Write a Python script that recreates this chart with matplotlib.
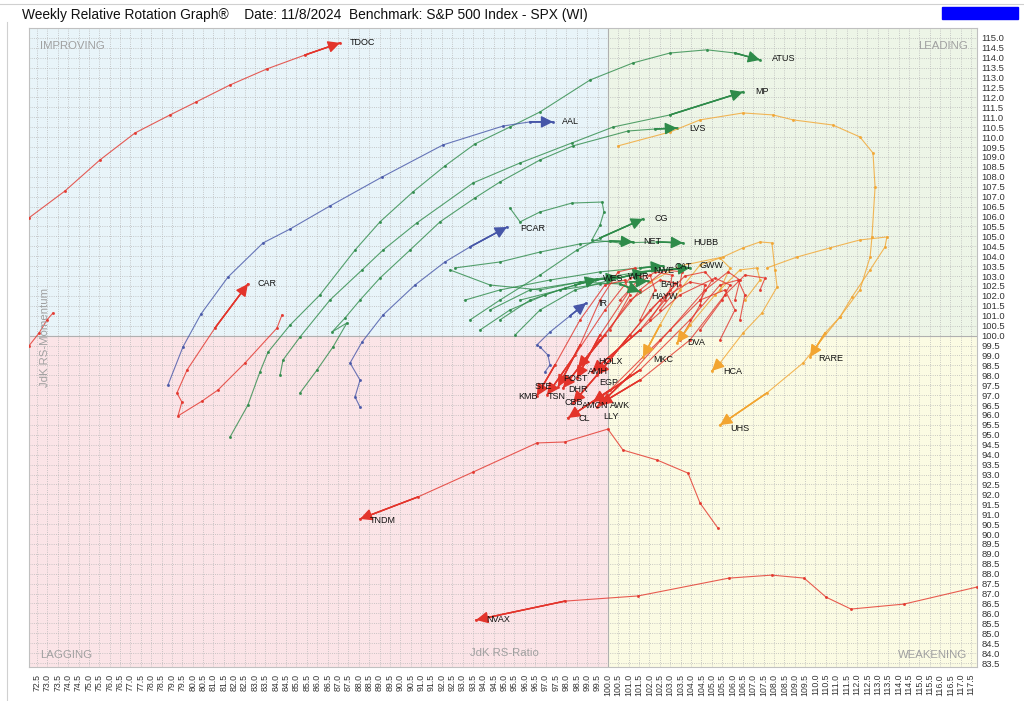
import numpy as np
import matplotlib.pyplot as plt
from matplotlib.patches import Rectangle

plt.rcParams['font.family'] = ['Liberation Sans', 'DejaVu Sans']

RED = "#e3342b"
GREEN = "#2e8b4a"
BLUE = "#4656a8"
ORANGE = "#f2a531"

# RS-Ratio / RS-Momentum tails, oldest point first, head last
tdoc_rs = [72.11, 73.85, 75.53, 77.22, 78.91, 80.16, 81.80, 83.58, 85.41, 87.10]
tdoc_mom = [105.93, 107.29, 108.85, 110.21, 111.12, 111.77, 112.63, 113.44, 114.14, 114.75]

atus_rs = [81.80, 82.66, 83.24, 83.63, 84.69, 86.13, 87.82, 89.02, 90.61, 92.15,
           93.60, 95.28, 96.73, 99.14, 101.21, 102.99, 104.77, 106.12, 107.33]
atus_mom = [94.89, 96.50, 98.17, 99.17, 100.53, 102.05, 104.31, 105.73, 107.24, 108.55,
            109.66, 110.51, 111.27, 112.88, 113.74, 114.24, 114.40, 114.24, 113.89]

mp_rs = [84.21, 84.35, 85.17, 86.61, 88.16, 89.17, 90.80, 93.50, 95.77, 98.27, 100.25, 102.99, 106.51]
mp_mom = [98.01, 98.77, 99.93, 101.79, 103.31, 104.31, 105.68, 107.69, 108.70, 109.71, 110.51, 111.12, 112.28]

lvs_rs = [85.17, 85.99, 86.76, 87.43, 86.71, 87.34, 88.06, 89.02, 90.47, 91.91,
          93.60, 94.80, 96.73, 98.32, 100.97, 102.27, 103.33]
lvs_mom = [97.11, 98.27, 99.43, 100.64, 100.18, 100.89, 101.79, 102.90, 104.31, 105.73,
           106.94, 107.74, 108.85, 109.56, 110.31, 110.41, 110.46]

aal_rs = [78.81, 79.53, 80.40, 81.70, 83.39, 84.69, 86.61, 89.12, 92.06, 94.95, 96.25, 97.36]
aal_mom = [97.51, 99.43, 101.09, 102.95, 104.67, 105.37, 106.53, 107.99, 109.61, 110.56, 110.77, 110.77]

car_rs = [84.30, 84.06, 82.52, 81.22, 80.45, 79.29, 79.48, 79.24, 79.73, 81.07, 82.66]
car_mom = [101.04, 100.38, 98.62, 97.26, 96.70, 95.95, 96.65, 97.11, 98.27, 100.38, 102.60]

edge_rs = [72.11, 72.60, 72.98, 73.27]
edge_mom = [99.48, 100.13, 100.79, 101.14]

pcar_rs = [88.06, 87.82, 88.06, 87.58, 88.16, 89.17, 90.71, 92.15, 93.36, 95.14]
pcar_mom = [96.40, 96.91, 97.76, 98.62, 99.68, 101.04, 102.55, 103.71, 104.47, 105.47]

ir_rs = [96.97, 97.21, 97.11, 96.73, 96.58, 97.21, 98.17, 98.95]
ir_mom = [98.17, 98.52, 99.02, 99.43, 99.53, 100.18, 100.99, 101.64]

tndm_rs = [105.30, 104.44, 103.86, 102.37, 100.73, 100.00, 97.93, 96.58, 93.50, 90.85, 88.06]
tndm_mom = [90.30, 91.56, 93.07, 93.73, 94.23, 95.29, 94.64, 94.59, 93.12, 91.87, 90.76]

nvax_rs = [117.78, 114.26, 111.71, 110.51, 109.45, 107.90, 105.83, 101.45, 97.93, 93.65]
nvax_mom = [87.33, 86.47, 86.22, 86.82, 87.78, 87.93, 87.78, 86.88, 86.62, 85.67]

rare_rs = [107.66, 109.11, 110.70, 112.14, 113.44, 113.35, 112.63, 111.76, 111.18, 110.46, 109.74]
rare_mom = [103.41, 103.96, 104.42, 104.82, 104.97, 104.47, 103.31, 101.95, 100.94, 100.13, 98.92]

uhs_rs = [100.49, 102.99, 104.44, 106.51, 107.95, 108.92, 110.84, 112.14, 112.77, 112.87,
          112.72, 112.63, 112.14, 111.18, 109.40, 107.66, 105.40]
uhs_mom = [109.56, 110.26, 110.87, 111.22, 111.12, 110.87, 110.61, 110.01, 109.20, 107.49,
           104.97, 103.96, 102.30, 100.94, 98.62, 97.11, 95.49]

hca_rs = [102.03, 103.47, 105.54, 106.51, 107.33, 107.90, 108.05, 108.15, 107.42, 106.51, 105.40, 105.01]
hca_mom = [102.70, 103.51, 103.96, 104.42, 104.72, 104.67, 103.31, 102.45, 101.14, 100.13, 98.62, 98.22]

dva_rs = [106.60, 107.33, 107.18, 106.36, 105.16, 103.95, 103.33]
dva_mom = [101.79, 102.80, 103.41, 103.31, 102.05, 100.53, 99.63]

mkc_rs = [105.40, 105.88, 105.40, 104.44, 103.47, 102.51, 101.69]
mkc_mom = [102.30, 103.41, 103.91, 103.56, 102.30, 100.53, 98.92]

wes_rs = [93.84, 95.28, 96.97, 98.42, 99.48]
wes_mom = [100.28, 101.29, 102.05, 102.55, 102.85]

whr_rs = [94.80, 96.25, 97.93, 99.38, 100.49]
whr_mom = [100.79, 101.79, 102.40, 102.80, 102.95]

nwe_rs = [95.53, 96.73, 98.42, 100.10, 101.79]
nwe_mom = [100.03, 101.29, 102.30, 102.80, 103.21]

cat_rs = [93.12, 94.80, 97.21, 99.62, 101.55, 102.65]
cat_mom = [101.79, 102.30, 102.80, 103.21, 103.41, 103.51]

gww_rs = [92.39, 94.32, 96.73, 99.14, 101.55, 103.95]
gww_mom = [103.31, 102.55, 102.30, 102.80, 103.21, 103.41]

bah_rs = [95.77, 97.69, 99.62, 101.06, 101.93]
bah_mom = [101.79, 102.30, 102.60, 102.70, 102.75]

hayw_rs = [94.32, 96.25, 98.66, 100.58, 101.55]
hayw_mom = [101.29, 102.30, 102.70, 102.60, 102.20]

cg_rs = [93.36, 94.80, 96.73, 98.51, 99.62, 101.69]
cg_mom = [100.79, 101.79, 103.05, 104.31, 104.92, 105.88]

net_rs = [92.64, 94.80, 96.73, 98.66, 100.10, 101.21]
net_mom = [103.41, 103.71, 104.21, 104.62, 104.77, 104.72]

hubb_rs = [95.28, 95.77, 96.73, 98.27, 99.72, 99.81, 99.62, 99.23, 100.58, 102.37, 103.62]
hubb_mom = [106.43, 105.73, 106.23, 106.68, 106.73, 106.23, 105.57, 104.82, 104.67, 104.72, 104.67]

holx_rs = [101.55, 102.75, 103.23, 102.51, 101.06, 99.86, 98.56]
holx_mom = [100.28, 101.79, 102.65, 102.80, 101.79, 100.03, 98.37]

amh_rs = [104.44, 105.50, 105.88, 105.16, 103.47, 101.55, 99.23]
amh_mom = [100.28, 101.79, 102.55, 102.90, 102.05, 100.28, 98.17]

egp_rs = [103.47, 104.44, 104.68, 103.95, 102.51, 101.06, 99.48]
egp_mom = [99.78, 101.54, 102.55, 102.70, 101.79, 100.03, 98.01]

post_rs = [102.03, 102.99, 103.09, 102.27, 101.06, 99.62, 98.51]
post_mom = [100.79, 102.30, 103.05, 103.21, 102.30, 100.03, 97.86]

ste_rs = [100.58, 101.55, 101.31, 100.49, 99.62, 98.66, 97.60]
ste_mom = [101.79, 102.90, 103.41, 103.21, 101.79, 99.53, 97.41]

dhr_rs = [102.51, 103.47, 103.57, 102.75, 101.55, 99.62, 97.84]
dhr_mom = [101.29, 102.55, 103.21, 103.31, 102.30, 99.78, 97.36]

kmb_rs = [100.10, 101.06, 100.82, 99.86, 98.66, 97.45, 96.58]
kmb_mom = [100.28, 102.05, 102.80, 102.55, 100.79, 98.52, 96.96]

tsn_rs = [101.55, 102.27, 102.03, 101.06, 99.86, 98.42, 97.07]
tsn_mom = [100.79, 102.30, 103.05, 102.90, 101.29, 99.02, 97.01]

cbb_rs = [104.44, 105.02, 104.68, 103.71, 102.03, 100.10, 98.32]
cbb_mom = [101.79, 102.80, 103.21, 103.00, 101.29, 98.77, 96.60]

amcn_rs = [106.36, 106.60, 106.27, 105.40, 103.95, 101.55, 99.28]
amcn_mom = [100.79, 102.05, 102.80, 102.55, 100.79, 98.27, 96.65]

awk_rs = [107.33, 107.57, 106.60, 105.64, 103.95, 101.55, 99.62]
awk_mom = [102.30, 102.90, 103.05, 102.05, 99.78, 97.76, 96.55]

lly_rs = [106.12, 106.36, 105.79, 104.68, 102.99, 101.06, 99.48]
lly_mom = [101.79, 102.80, 103.21, 102.30, 100.28, 98.01, 96.40]

cl_rs = [105.40, 106.12, 105.64, 104.44, 102.51, 100.10, 98.08]
cl_mom = [99.78, 101.29, 102.30, 101.79, 99.78, 97.26, 95.85]

series = [
    ("TDOC", tdoc_rs, tdoc_mom, RED),
    ("ATUS", atus_rs, atus_mom, GREEN),
    ("MP", mp_rs, mp_mom, GREEN),
    ("LVS", lvs_rs, lvs_mom, GREEN),
    ("AAL", aal_rs, aal_mom, BLUE),
    ("CAR", car_rs, car_mom, RED),
    ("", edge_rs, edge_mom, RED),
    ("PCAR", pcar_rs, pcar_mom, BLUE),
    ("IR", ir_rs, ir_mom, BLUE),
    ("TNDM", tndm_rs, tndm_mom, RED),
    ("NVAX", nvax_rs, nvax_mom, RED),
    ("RARE", rare_rs, rare_mom, ORANGE),
    ("UHS", uhs_rs, uhs_mom, ORANGE),
    ("HCA", hca_rs, hca_mom, ORANGE),
    ("DVA", dva_rs, dva_mom, ORANGE),
    ("MKC", mkc_rs, mkc_mom, ORANGE),
    ("WES", wes_rs, wes_mom, GREEN),
    ("WHR", whr_rs, whr_mom, GREEN),
    ("NWE", nwe_rs, nwe_mom, GREEN),
    ("CAT", cat_rs, cat_mom, GREEN),
    ("GWW", gww_rs, gww_mom, GREEN),
    ("BAH", bah_rs, bah_mom, GREEN),
    ("HAYW", hayw_rs, hayw_mom, GREEN),
    ("CG", cg_rs, cg_mom, GREEN),
    ("NET", net_rs, net_mom, GREEN),
    ("HUBB", hubb_rs, hubb_mom, GREEN),
    ("HOLX", holx_rs, holx_mom, RED),
    ("AMH", amh_rs, amh_mom, RED),
    ("EGP", egp_rs, egp_mom, RED),
    ("POST", post_rs, post_mom, RED),
    ("STE", ste_rs, ste_mom, RED),
    ("DHR", dhr_rs, dhr_mom, RED),
    ("KMB", kmb_rs, kmb_mom, RED),
    ("TSN", tsn_rs, tsn_mom, RED),
    ("CBB", cbb_rs, cbb_mom, RED),
    ("AMCN", amcn_rs, amcn_mom, RED),
    ("AWK", awk_rs, awk_mom, RED),
    ("LLY", lly_rs, lly_mom, RED),
    ("CL", cl_rs, cl_mom, RED),
]

# label offsets from the head, in pixels (x right, y down)
label_off = {
    "TDOC": (10, 0), "ATUS": (12, -1), "MP": (12, 0), "LVS": (12, 0), "AAL": (9, 0),
    "CAR": (10, 0), "PCAR": (13, 1), "IR": (12, 0), "TNDM": (10, 2), "NVAX": (10, 0),
    "RARE": (8, 1), "UHS": (10, 3), "HCA": (11, 1), "DVA": (10, 0), "MKC": (10, 2),
    "WES": (6, -1), "WHR": (10, -1), "NWE": (8, -1), "CAT": (12, 1), "GWW": (10, -2),
    "BAH": (12, 3), "HAYW": (11, 5), "CG": (12, 0), "NET": (10, 0), "HUBB": (10, 0),
    "HOLX": (20, -6), "AMH": (-4, 0), "EGP": (2, 7), "POST": (-14, 0), "STE": (-24, 0),
    "DHR": (5, 2), "KMB": (-19, 1), "TSN": (1, 2), "CBB": (-9, -1), "AMCN": (-11, 3),
    "AWK": (10, 1), "LLY": (6, 9), "CL": (10, 1),
}

fig = plt.figure(figsize=(10.24, 7.01), dpi=100)
ax = fig.add_axes([29 / 1024, 34 / 701, 948 / 1024, 639 / 701])

x0, x1 = 72.115, 117.78
y0, y1 = 83.30, 115.50
ax.set_xlim(x0, x1)
ax.set_ylim(y0, y1)

# quadrants
ax.add_patch(Rectangle((x0, 100), 100 - x0, y1 - 100, color="#e8f4f9", zorder=0))
ax.add_patch(Rectangle((100, 100), x1 - 100, y1 - 100, color="#edf5e7", zorder=0))
ax.add_patch(Rectangle((x0, y0), 100 - x0, 100 - y0, color="#fbe4e7", zorder=0))
ax.add_patch(Rectangle((100, y0), x1 - 100, 100 - y0, color="#fbfbe3", zorder=0))
ax.axvline(100, color="#b0b0b0", lw=0.8, zorder=1)
ax.axhline(100, color="#b0b0b0", lw=0.8, zorder=1)

xt = np.arange(72.5, 117.51, 0.5)
yt = np.arange(83.5, 115.01, 0.5)
ax.set_xticks(xt)
ax.set_xticklabels([f"{v:.1f}" for v in xt], rotation=90, fontsize=6.3, color="#333333")
ax.set_yticks(yt)
ax.set_yticklabels([f"{v:.1f}" for v in yt], fontsize=6.8, color="#333333")
ax.yaxis.tick_right()
ax.tick_params(axis="x", length=0, pad=5)
ax.tick_params(axis="y", length=0, pad=3)
ax.grid(True, ls=":", lw=0.6, color="#b8b8b8", zorder=1)
ax.set_axisbelow(True)
for s in ax.spines.values():
    s.set_color("#c0c0c0")
    s.set_linewidth(0.8)

for name, rs, mom, c in series:
    ax.plot(rs, mom, color=c, lw=0.8, alpha=0.8, marker="o", ms=1.2, zorder=3)
    if not name:
        continue
    ax.plot(rs[-2:], mom[-2:], color=c, lw=1.1, zorder=4)
    ax.annotate("", xy=(rs[-1], mom[-1]), xytext=(rs[-2], mom[-2]),
                arrowprops=dict(arrowstyle="-|>,head_length=0.6,head_width=0.3",
                                color=c, lw=1.0, shrinkA=0, shrinkB=0, mutation_scale=12),
                zorder=5)
    dx, dy = label_off[name]
    ax.annotate(name, xy=(rs[-1], mom[-1]), xytext=(dx, -dy), textcoords="offset pixels",
                fontsize=6.5, color="#111111", ha="left", va="center", zorder=6)

qc = "#a0a0a0"
ax.text(0.012, 0.972, "IMPROVING", transform=ax.transAxes, fontsize=8.2, color=qc, va="center")
ax.text(0.990, 0.972, "LEADING", transform=ax.transAxes, fontsize=8.2, color=qc, va="center", ha="right")
ax.text(0.012, 0.019, "LAGGING", transform=ax.transAxes, fontsize=8.2, color=qc, va="center")
ax.text(0.990, 0.019, "WEAKENING", transform=ax.transAxes, fontsize=8.2, color=qc, va="center", ha="right")
ax.text(0.501, 0.022, "JdK RS-Ratio", transform=ax.transAxes, fontsize=8.2, color=qc, va="center", ha="center")
ax.text(0.017, 0.515, "JdK RS-Momentum", transform=ax.transAxes, fontsize=8.2, color=qc,
        va="center", ha="center", rotation=90)

fig.text(22 / 1024, 1 - 15 / 701,
         "Weekly Relative Rotation Graph\u00ae    Date: 11/8/2024  Benchmark: S&P 500 Index - SPX (WI)",
         fontsize=9.9, va="center", color="#111111")
fig.patches.append(Rectangle((942 / 1024, 1 - 19 / 701), 76 / 1024, 12 / 701,
                             color="#0000ff", transform=fig.transFigure, figure=fig))
fig.lines.append(plt.Line2D([0, 1], [1 - 4 / 701, 1 - 4 / 701], color="#d0d0d0", lw=0.8,
                            transform=fig.transFigure, figure=fig))
fig.lines.append(plt.Line2D([7 / 1024, 7 / 1024], [0, 1 - 22 / 701], color="#d0d0d0", lw=0.8,
                            transform=fig.transFigure, figure=fig))

fig.savefig("out.png", dpi=100)
